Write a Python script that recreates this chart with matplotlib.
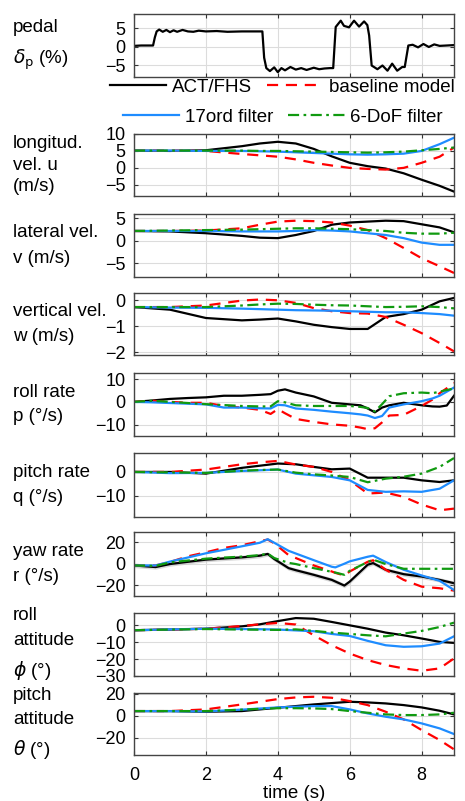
import matplotlib
matplotlib.use("Agg")
import matplotlib.pyplot as plt
import numpy as np

plt.rcParams["font.family"] = ["Liberation Sans", "DejaVu Sans"]
plt.rcParams["mathtext.fontset"] = "dejavusans"

# ---- data ----
pedal_t = [0, 0.2, 0.4, 0.53, 0.58, 0.63, 0.7, 0.8, 0.9, 1.0, 1.1, 1.2, 1.35, 1.5, 1.65,
           1.8, 2.0, 2.3, 2.6, 3.0, 3.3, 3.57, 3.62, 3.68, 3.78, 3.9, 4.0, 4.1, 4.2,
           4.35, 4.5, 4.65, 4.8, 5.0, 5.15, 5.3, 5.45, 5.54, 5.61, 5.75, 5.84, 5.98,
           6.12, 6.26, 6.4, 6.49, 6.54, 6.61, 6.77, 6.91, 7.05, 7.18, 7.32, 7.46,
           7.53, 7.63, 7.75, 7.9, 8.05, 8.2, 8.35, 8.5, 8.7, 8.89]
pedal_val = [0.2, 0.3, 0.3, 0.3, 2.5, 4.1, 4.6, 4.0, 4.5, 3.9, 4.4, 4.0, 4.5, 4.1, 4.0,
             4.3, 4.1, 4.2, 4.0, 4.1, 4.1, 4.1, -3.0, -5.8, -6.6, -5.6, -6.9, -5.8,
             -6.4, -5.5, -6.2, -5.8, -6.3, -5.7, -6.1, -5.9, -5.8, -5.8, 5.3, 7.0,
             5.6, 5.2, 7.0, 5.4, 6.8, 5.8, 3.0, -5.1, -6.1, -5.1, -6.5, -4.6, -6.5,
             -5.5, -5.5, 0.3, 0.5, -0.2, 0.7, -0.1, 0.6, 0.2, 0.3, 0.4]

ts = [0, 1, 2, 3, 3.5, 4, 4.5, 5, 5.5, 6, 6.5, 7, 7.5, 8, 8.5, 8.9]

u_act = [5.1, 5.0, 5.2, 6.4, 7.2, 7.7, 7.2, 5.6, 3.4, 1.5, 0.5, -0.2, -1.6, -3.5, -5.3, -7.0]
u_base = [5.1, 5.1, 5.0, 4.1, 3.7, 3.3, 2.5, 1.5, 0.7, 0.0, -0.3, -0.5, 0.0, 1.5, 3.3, 6.0]
u_17 = [5.1, 5.1, 5.0, 5.0, 4.9, 4.8, 4.6, 4.4, 4.2, 4.0, 3.9, 4.0, 4.2, 5.0, 7.0, 8.9]
u_6dof = [5.1, 5.1, 5.1, 5.1, 5.0, 5.0, 4.9, 4.8, 4.7, 4.6, 4.5, 4.6, 4.8, 5.2, 5.6, 6.0]

v_act = [2.2, 2.1, 1.7, 1.1, 0.7, 0.6, 1.3, 2.2, 3.6, 4.1, 4.3, 4.5, 4.4, 3.7, 3.0, 1.9]
v_base = [2.2, 2.2, 2.3, 2.8, 3.6, 4.3, 4.5, 4.4, 4.1, 3.4, 2.4, 0.6, -1.6, -3.9, -5.7, -7.2]
v_17 = [2.2, 2.2, 2.2, 2.1, 2.1, 2.1, 2.2, 2.4, 2.3, 2.1, 1.7, 1.3, 0.6, -0.4, -0.9, -0.9]
v_6dof = [2.2, 2.3, 2.4, 2.5, 2.6, 2.7, 2.8, 2.8, 2.7, 2.6, 2.4, 2.2, 1.8, 1.6, 1.6, 1.8]

w_act = [-0.26, -0.36, -0.68, -0.77, -0.74, -0.70, -0.81, -0.94, -1.03, -1.10, -1.10,
         -0.64, -0.53, -0.36, -0.04, 0.09]
w_base = [-0.26, -0.26, -0.20, -0.01, 0.03, 0.0, -0.10, -0.30, -0.42, -0.49, -0.51,
          -0.64, -0.94, -1.26, -1.64, -1.96]
w_17 = [-0.26, -0.28, -0.29, -0.32, -0.34, -0.36, -0.38, -0.39, -0.40, -0.42, -0.44,
        -0.46, -0.46, -0.49, -0.53, -0.59]
w_6dof = [-0.26, -0.26, -0.26, -0.20, -0.16, -0.13, -0.14, -0.17, -0.19, -0.20, -0.23,
          -0.26, -0.25, -0.23, -0.26, -0.31]

p_t = [0, 0.5, 1, 1.5, 2, 2.5, 3, 3.5, 3.8, 4.0, 4.2, 4.5, 5, 5.5, 6, 6.3, 6.5, 6.7,
       6.9, 7.1, 7.5, 8, 8.3, 8.5, 8.7, 8.9]
p_act = [0, 0.6, 1.3, 1.7, 2.0, 2.7, 2.7, 3.1, 3.4, 4.9, 5.5, 4.1, 2.4, -0.4, -1.1,
         -1.5, -2.9, -4.6, -2.5, -1.5, -0.4, -1.5, -2.0, -2.1, -1.6, 2.7]
p_base = [0, 0.5, 0, -0.4, -0.4, -1.8, -2.5, -3.5, -5.3, -3.2, -5.0, -7.5, -8.8, -9.9,
          -10.5, -11.3, -12.0, -11.6, -9.0, -6.0, -5.7, -1.8, 1.0, 3.8, 6.0, 8.3]
p_17 = [0, -0.2, -0.5, -0.8, -1.1, -2.5, -2.5, -2.8, -2.9, -1.3, -1.5, -2.9, -3.5,
        -4.3, -5.0, -5.5, -6.0, -7.1, -6.2, -2.5, -1.1, 0.3, 1.5, 2.7, 4.5, 6.3]
p_6dof = [0, 0.5, 0, -0.5, -1.0, -1.4, -1.8, -2.0, -2.0, 0.3, -0.2, -1.5, -1.8, -1.8,
          -1.8, -2.2, -2.7, -4.2, -1.0, 2.5, 3.8, 4.1, 3.8, 4.5, 5.2, 5.9]

q_act = [0, 0, -0.7, 1.7, 2.6, 3.5, 3.2, 2.1, 1.1, 1.4, -2.4, -2.4, -2.4, -3.5, -4.2, -3.5]
q_base = [0, 0, 1.0, 3.2, 4.0, 4.6, 3.1, 2.1, 0.0, -3.5, -9.0, -8.6, -10.4, -13.6, -16.0, -15.3]
q_17 = [0, -0.5, -0.4, 0.4, 0.7, 1.0, -0.7, -1.4, -2.1, -3.5, -7.5, -8.3, -8.1, -8.3, -7.0, -3.5]
q_6dof = [0, -0.2, -0.4, 0.5, 0.8, 1.0, -0.3, -1.0, -1.5, -2.1, -4.3, -2.8, -2.0, -0.7, 2.1, 5.8]

r_t = [0, 0.6, 1, 1.5, 2, 2.5, 3, 3.5, 3.72, 3.9, 4.3, 4.5, 5, 5.5, 5.6, 5.85, 6,
       6.5, 6.65, 7, 7.5, 8, 8.5, 8.9]
r_act = [-1.6, -3.1, -0.3, 1.8, 3.8, 4.9, 5.9, 7.5, 9.1, 4.4, -4.1, -6.0, -10.3, -15.0,
         -16.5, -20.3, -16.6, -0.9, 0.6, -5.6, -9.7, -11.9, -15.0, -18.1]
r_base = [-1.6, -1.6, 1.6, 6.9, 10.6, 14.7, 17.2, 20.9, 22.5, 19.0, 8.0, 5.3, -1.6,
          -7.2, -8.5, -10.9, -7.2, 1.8, 3.2, -5.6, -15.0, -21.3, -22.8, -25.0]
r_17 = [-1.6, -1.6, 2.0, 5.8, 9.7, 12.9, 16.2, 19.5, 22.8, 19.5, 12.0, 9.5, 3.3,
        -2.8, -3.4, 0.0, 2.2, 6.5, 7.5, 1.6, -5.6, -10.9, -15.9, -24.4]
r_6dof = [-1.6, -2.0, 1.2, 3.0, 4.7, 5.7, 6.6, 8.0, 9.4, 5.3, 0.8, -0.3, -4.1, -7.5,
          -8.2, -10.3, -6.6, 1.6, 3.8, -0.3, -4.7, -4.7, -4.7, -4.7]

phi_act = [-2.9, -2.5, -2.0, -0.6, 0.6, 2.5, 4.3, 3.9, 2.0, 0.0, -2.0, -4.3, -5.9, -7.8, -9.8, -10.4]
phi_base = [-2.9, -2.5, -2.0, -0.4, 0.6, 1.4, 0.5, -5.9, -11.8, -16.7, -20.6, -23.5,
            -25.5, -26.9, -25.5, -19.6]
phi_17 = [-2.9, -2.4, -2.0, -2.2, -2.3, -2.5, -3.0, -3.5, -5.1, -6.3, -9.2, -11.8,
          -12.7, -12.4, -10.8, -6.5]
phi_6dof = [-2.9, -2.5, -2.2, -2.5, -2.6, -2.7, -2.4, -3.3, -4.3, -5.1, -5.9, -6.5,
            -4.9, -3.3, -1.0, 1.6]

th_act = [4.2, 4.2, 3.6, 4.2, 5.7, 7.2, 8.7, 10.2, 11.4, 12.6, 12.0, 11.1, 9.6, 7.5, 4.5, 1.2]
th_base = [4.2, 4.2, 5.7, 10.2, 12.6, 15.0, 16.5, 17.1, 16.2, 13.2, 9.6, 3.6, -3.3,
           -12.9, -21.9, -30.3]
th_17 = [4.2, 4.1, 3.9, 5.5, 6.5, 7.5, 8.1, 8.7, 8.7, 5.7, 2.1, -0.9, -3.3, -6.9, -11.4, -16.5]
th_6dof = [4.2, 4.2, 4.2, 5.5, 6.2, 6.8, 6.8, 6.6, 6.0, 4.2, 2.7, 1.2, 0.6, 0.6, 1.2, 2.7]

ylabels = ["pedal\n$\\delta_\\mathrm{p}$ (%)", "longitud.\nvel. u\n(m/s)",
           "lateral vel.\nv (m/s)", "vertical vel.\nw (m/s)", "roll rate\np (°/s)",
           "pitch rate\nq (°/s)", "yaw rate\nr (°/s)", "roll\nattitude\n$\\phi$ (°)",
           "pitch\nattitude\n$\\theta$ (°)"]
label_spacing = [1.75, 1.35, 1.65, 1.55, 1.6, 1.6, 1.6, 1.6, 1.55]
yticks = [[-5, 0, 5], [-5, 0, 5, 10], [-5, 0, 5], [-2, -1, 0], [-10, 0, 10],
          [-10, 0], [-20, 0, 20], [-30, -20, -10, 0], [-20, 0, 20]]
ylims = [(-8.2, 8.8), (-8.3, 10), (-8.1, 6), (-2.1, 0.28), (-15, 12.7),
         (-18.8, 7.9), (-30, 29.5), (-30, 7.3), (-35.4, 20.5)]
legend_names = ["ACT/FHS", "baseline model", "17ord filter", "6-DoF filter"]

# pixel boxes (top, bottom) of each axes in the 465x801 figure
boxes = [(14, 77), (134, 196), (214, 277), (293, 355), (373, 436),
         (453, 517), (532, 596), (613, 676), (693, 755)]

C_ACT = "black"
C_BASE = "#ff0000"
C_17 = "#1e8cff"
C_6 = "#109a10"
LW = 1.6

fig = plt.figure(figsize=(4.65, 8.01), dpi=100)
W, H = 465.0, 801.0

series = [
    None,
    (ts, u_act, u_base, u_17, u_6dof),
    (ts, v_act, v_base, v_17, v_6dof),
    (ts, w_act, w_base, w_17, w_6dof),
    (p_t, p_act, p_base, p_17, p_6dof),
    (ts, q_act, q_base, q_17, q_6dof),
    (r_t, r_act, r_base, r_17, r_6dof),
    (ts, phi_act, phi_base, phi_17, phi_6dof),
    (ts, th_act, th_base, th_17, th_6dof),
]

handles = None
for i, (top, bot) in enumerate(boxes):
    ax = fig.add_axes([134 / W, 1 - bot / H, 320 / W, (bot - top) / H])
    if i == 0:
        ax.plot(pedal_t, pedal_val, color=C_ACT, lw=LW)
    else:
        t, a, b, c, d = series[i]
        if i == 6:
            ax.fill_between(t, np.array(a) - 2.0, np.array(a) + 2.0,
                            color="0.75", alpha=0.6, lw=0)
        h1, = ax.plot(t, a, color=C_ACT, lw=LW)
        h2, = ax.plot(t, b, color=C_BASE, lw=LW, ls=(0, (5, 3.5)))
        h3, = ax.plot(t, c, color=C_17, lw=LW)
        h4, = ax.plot(t, d, color=C_6, lw=LW, ls=(0, (5, 2, 1.2, 2)))
        handles = [h1, h2, h3, h4]
    ax.set_xlim(0, 8.9)
    ax.set_ylim(*ylims[i])
    ax.set_yticks(yticks[i])
    ax.set_xticks([0, 2, 4, 6, 8])
    ax.grid(True, color="#dcdcdc", lw=0.8)
    ax.set_axisbelow(True)
    ax.tick_params(direction="in", top=True, right=True, length=3,
                   labelsize=13, pad=6, color="#333333")
    ax.tick_params(axis="x", pad=9)
    for s in ax.spines.values():
        s.set_color("#444444")
        s.set_linewidth(1.0)
    if i < len(boxes) - 1:
        ax.set_xticklabels([])
    else:
        ax.set_xlabel("time (s)", fontsize=13.5, labelpad=0)
    fig.text(13 / W, 1 - (top + bot) / 2 / H, ylabels[i], ha="left", va="center",
             fontsize=13.5, linespacing=label_spacing[i])

leg_kw = dict(frameon=False, ncol=2, fontsize=13.5, handlelength=3.0,
              handletextpad=0.3, columnspacing=0.8, borderpad=0, borderaxespad=0)
fig.legend([handles[0], handles[1]], legend_names[:2], loc="center",
           bbox_to_anchor=(282 / W, 1 - 87 / H), **leg_kw)
fig.legend([handles[2], handles[3]], legend_names[2:], loc="center",
           bbox_to_anchor=(283 / W, 1 - 117 / H), **leg_kw)

fig.savefig("out.png", dpi=100)
